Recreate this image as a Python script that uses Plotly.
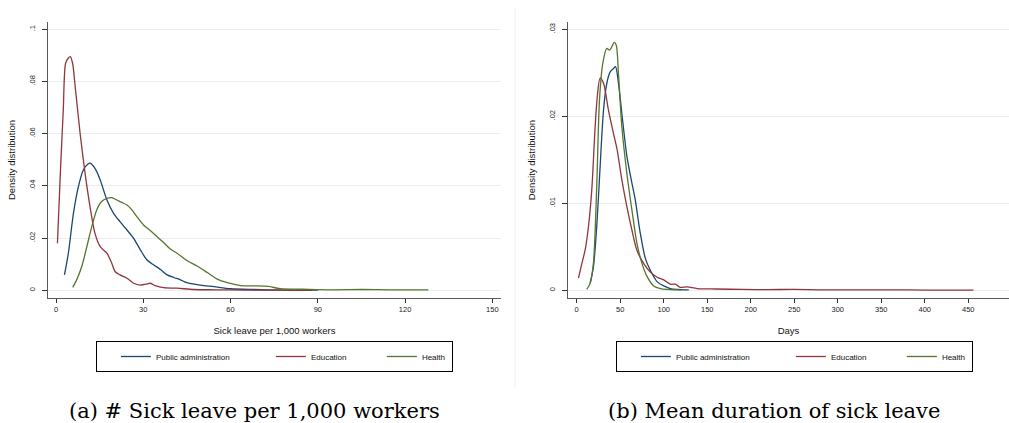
import plotly.graph_objects as go

# ---------------- data ----------------
series_names = ["Public administration", "Education", "Health"]
series_colors = ["#1a476f", "#90353b", "#55752f"]

# Panel (a): sick leave per 1,000 workers
a_pub_x = [2.9, 4.25, 6.0, 7.7, 9.4, 11.1, 11.7, 13.4, 15.2, 17.5, 19.8, 22.0, 24.4, 26.7, 29.0,
           31.3, 33.6, 35.9, 38.2, 40.5, 42.8, 45.0, 49.7, 54.3, 60.0, 68, 78, 90]
a_pub_y = [0.0059, 0.0142, 0.0295, 0.0397, 0.0461, 0.0485, 0.0487, 0.0467, 0.0423, 0.0346, 0.0295,
           0.0263, 0.0231, 0.0199, 0.0155, 0.0116, 0.0097, 0.008, 0.0059, 0.0049, 0.004, 0.0029,
           0.002, 0.0014, 0.0006, 0.0003, 0.0001, 0.00005]

a_edu_x = [0.5, 1.5, 2.5, 3.3, 4.2, 4.9, 5.7, 6.6, 8.3, 10.0, 11.7, 13.4, 15.2, 17.5, 19.2, 20.3,
           22.0, 24.4, 26.7, 29.0, 31.3, 32.4, 34.1, 37.0, 41.6, 47.4, 55, 65, 75, 88]
a_edu_y = [0.018, 0.045, 0.069, 0.087, 0.0889, 0.0895, 0.087, 0.078, 0.060, 0.0448, 0.032, 0.0218,
           0.0167, 0.0142, 0.0103, 0.0072, 0.0059, 0.0046, 0.0027, 0.002, 0.0024, 0.0027, 0.0018,
           0.001, 0.0008, 0.0003, 0.0002, 0.0001, 0.00005, 0.00002]

a_hea_x = [5.75, 7.1, 8.85, 10.6, 12.3, 14.0, 15.7, 17.5, 19.2, 20.9, 22.6, 24.4, 26.1, 27.8, 30.1,
           32.4, 34.7, 37.0, 39.3, 41.6, 45.0, 48.5, 52.0, 55.4, 58.9, 63.4, 68, 73, 77, 85, 95,
           105, 115, 128]
a_hea_y = [0.0011, 0.004, 0.0091, 0.0167, 0.0244, 0.0308, 0.034, 0.0352, 0.0355, 0.0346, 0.0337,
           0.0327, 0.0308, 0.0282, 0.025, 0.0229, 0.0206, 0.0183, 0.0158, 0.0142, 0.0114, 0.0093,
           0.0068, 0.0043, 0.0029, 0.0018, 0.0017, 0.0015, 0.0006, 0.0004, 0.0002, 0.0003, 0.0002,
           0.0002]

# Panel (b): mean duration of sick leave (days)
b_pub_x = [15.4, 19.2, 23.0, 26.9, 30.8, 34.6, 38.5, 42.3, 44.6, 48.0, 51.9, 57.7, 63.5, 67.3, 73.0,
           78.8, 84.6, 92.3, 100, 107.7, 115.4, 128.8]
b_pub_y = [0.0008, 0.0027, 0.0073, 0.0142, 0.0207, 0.0238, 0.0251, 0.0255, 0.0257, 0.0238, 0.0203,
           0.0154, 0.0123, 0.0104, 0.0066, 0.0037, 0.0023, 0.001, 0.0005, 0.0002, 0.0001, 0.00004]

b_edu_x = [2, 6, 10, 13.5, 17.3, 21.2, 23.8, 26.9, 30.8, 36.5, 42.3, 46.2, 51.9, 57.7, 63.5, 69.2,
           76.9, 84.6, 92.3, 100, 107.7, 113.5, 119, 127, 138.5, 160, 190, 220, 250, 280, 320, 360,
           400, 456]
b_edu_y = [0.0014, 0.0031, 0.0048, 0.0073, 0.0115, 0.0188, 0.0224, 0.0244, 0.0238, 0.0207, 0.018,
           0.0163, 0.0127, 0.0096, 0.0069, 0.0046, 0.0031, 0.0021, 0.0015, 0.0012, 0.0007, 0.0007,
           0.00035, 0.0004, 0.0002, 0.00015, 0.0001, 0.00008, 0.0001, 0.00005, 0.00005, 0.00006,
           0.00003, 0.00002]

b_hea_x = [11.5, 15.4, 19.2, 23.0, 26.2, 30.0, 34.6, 37.7, 40.4, 43.1, 45.4, 48.0, 51.9, 57.7, 63.5,
           69.2, 75.0, 80.8, 88.5, 96.2, 103.8, 115.4, 120]
b_hea_y = [0.0001, 0.0008, 0.0031, 0.0119, 0.0219, 0.0261, 0.0278, 0.0276, 0.028, 0.0285, 0.0282,
           0.0249, 0.0188, 0.0134, 0.0092, 0.0054, 0.0031, 0.0016, 0.0005, 0.0002, 0.0001, 0.00004,
           0.00003]

a_xticks = [0, 30, 60, 90, 120, 150]
a_yticks = [0, 0.02, 0.04, 0.06, 0.08, 0.1]
a_yticklabels = ["0", ".02", ".04", ".06", ".08", ".1"]
b_xticks = [0, 50, 100, 150, 200, 250, 300, 350, 400, 450, 500]
b_yticks = [0, 0.01, 0.02, 0.03]
b_yticklabels = ["0", ".01", ".02", ".03"]

a_xtitle = "Sick leave per 1,000 workers"
b_xtitle = "Days"
ytitle = "Density distribution"
captions = ["(a) # Sick leave per 1,000 workers", "(b) Mean duration of sick leave"]

# ---------------- figure ----------------
W, H = 1009, 423
fig = go.Figure()

panel_a = [(a_pub_x, a_pub_y), (a_edu_x, a_edu_y), (a_hea_x, a_hea_y)]
panel_b = [(b_pub_x, b_pub_y), (b_edu_x, b_edu_y), (b_hea_x, b_hea_y)]
legend_widths = [110, 66, 25]

for i, (xs, ys) in enumerate(panel_a):
    fig.add_trace(go.Scatter(x=xs, y=ys, mode="lines", name=series_names[i],
                             line=dict(color=series_colors[i], width=1.3, shape="spline", smoothing=0.8),
                             xaxis="x", yaxis="y", legend="legend", legendwidth=legend_widths[i]))
for i, (xs, ys) in enumerate(panel_b):
    fig.add_trace(go.Scatter(x=xs, y=ys, mode="lines", name=series_names[i],
                             line=dict(color=series_colors[i], width=1.3, shape="spline", smoothing=0.8),
                             xaxis="x2", yaxis="y2", legend="legend2", legendwidth=legend_widths[i]))

font_family = "Liberation Sans, Arial, sans-serif"
axis_color = "#5a5a5a"
grid_color = "#e6eef0"
tick_font = dict(family=font_family, size=7.5, color="#222222")
title_font = dict(family=font_family, size=9.5, color="#111111")

common_x = dict(showline=True, linecolor=axis_color, linewidth=1.3, showgrid=False, zeroline=False,
                ticks="outside", ticklen=4, tickcolor="#333333", tickwidth=1, tickfont=tick_font,
                title_font=title_font, title_standoff=14)
common_y = dict(showline=True, linecolor=axis_color, linewidth=1.3, showgrid=True, gridcolor=grid_color,
                gridwidth=1, zeroline=False, ticks="outside", ticklen=5, tickcolor="#333333",
                tickwidth=1, tickfont=tick_font, tickangle=-90, ticklabelstandoff=4,
                title_font=title_font, title_standoff=10, domain=[0, 1])

legend_common = dict(orientation="h", xanchor="center", yanchor="top", bordercolor="#000000",
                     borderwidth=1, bgcolor="white",
                     font=dict(family=font_family, size=8, color="#111111"),
                     title=dict(text="&nbsp;" * 4, side="left",
                                font=dict(family=font_family, size=8)),
                     entrywidthmode="pixels")

fig.update_layout(
    width=W, height=H,
    margin=dict(l=0, r=0, t=22, b=125),
    paper_bgcolor="white", plot_bgcolor="white",
    xaxis=dict(domain=[48 / W, 501 / W], range=[-2.75, 152.97], tickvals=a_xticks,
               title_text=a_xtitle, anchor="y", **common_x),
    yaxis=dict(range=[-0.00295, 0.1028], tickvals=a_yticks, ticktext=a_yticklabels,
               title_text=ytitle, anchor="x", **common_y),
    xaxis2=dict(domain=[568 / W, 1.0], range=[-10, 496.8], tickvals=b_xticks,
                title_text=b_xtitle, anchor="y2", **common_x),
    yaxis2=dict(range=[-0.000885, 0.03084], tickvals=b_yticks, ticktext=b_yticklabels,
                title_text=ytitle, anchor="x2", **common_y),
    legend=dict(x=274.5 / W, y=(298 - 341) / 276, **legend_common),
    legend2=dict(x=794.5 / W, y=(298 - 341) / 276, **legend_common),
    showlegend=True,
)

# faint frame line at the left of panel (b)
fig.add_shape(type="line", xref="paper", yref="paper", x0=515 / W, x1=515 / W,
              y0=(298 - 8) / 276, y1=(298 - 387) / 276, line=dict(color="#ededed", width=1))

cap_font = dict(family="DejaVu Serif, Liberation Serif, serif", size=21, color="#000000")
for cx, text in zip([254 / W, 773.5 / W], captions):
    fig.add_annotation(x=cx, y=(298 - 425) / 276, xref="paper", yref="paper", text=text,
                       showarrow=False, xanchor="center", yanchor="bottom", font=cap_font)

fig.write_html("out.html")
